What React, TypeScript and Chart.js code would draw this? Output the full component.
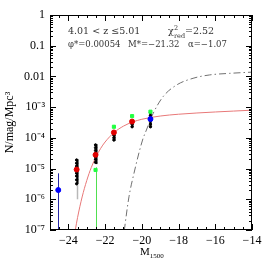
import React, { useEffect, useRef } from "react";
import { Chart, registerables } from "chart.js";
Chart.register(...registerables);

// ---- data ----
const redM = [-23.55, -22.52, -21.52, -20.53];
const redPhi = [9.3e-6, 2.8e-5, 1.5e-4, 3.4e-4];
const redErrLo = [7.5e-6, 2.4e-5, 1.35e-4, 3.1e-4];
const redErrHi = [1.15e-5, 3.3e-5, 1.65e-4, 3.7e-4];

const greenM = [-22.52, -21.52, -20.53, -19.53];
const greenPhi = [9e-6, 2.3e-4, 5.1e-4, 7.1e-4];
const greenErrLo = [1e-7, 2.1e-4, 4.7e-4, 6.5e-4];
const greenErrHi = [1.1e-5, 2.6e-4, 5.6e-4, 7.8e-4];

const blueM = [-24.55, -19.53];
const bluePhi = [2e-6, 4.1e-4];
const blueErrLo = [1e-7, 3.6e-4];
const blueErrHi = [7e-6, 4.6e-4];

const blackM = [
  -23.55, -23.55, -23.55, -23.55, -23.55, -23.55, -23.55, -23.55,
  -22.52, -22.52, -22.52, -22.52, -22.52, -22.52, -22.52,
  -21.52, -21.52, -21.52, -21.52,
  -20.53, -20.53, -20.53,
  -19.53, -19.53, -19.53, -19.53, -19.53, -19.53,
];
const blackPhi = [
  1.9e-5, 1.5e-5, 1.2e-5, 8.9e-6, 7.1e-6, 5.7e-6, 4.3e-6, 3.2e-6,
  5.9e-5, 4.8e-5, 3.9e-5, 3.2e-5, 2.4e-5, 2.0e-5, 1.6e-5,
  1.45e-4, 1.2e-4, 1.0e-4, 8.5e-5,
  3.3e-4, 2.8e-4, 2.3e-4,
  6.5e-4, 5.3e-4, 4.3e-4, 3.5e-4, 2.8e-4, 2.3e-4,
];
const blackErrM = [-23.55, -22.52, -21.52, -20.53, -19.53];
const blackErrLo = [3.2e-6, 1.4e-5, 8e-5, 2.2e-4, 2.2e-4];
const blackErrHi = [2e-5, 6.2e-5, 1.5e-4, 3.5e-4, 6.7e-4];

const grayErrM = [-23.55];
const grayErrLo = [1e-6];
const grayErrHi = [1.8e-5];

const fitM = [-23.75, -23.5, -23.25, -23, -22.75, -22.5, -22.25, -22, -21.5, -21, -20.5, -20, -19, -18, -17, -16, -15, -14];
const fitPhi = [3.6e-8, 2.52e-7, 1.19e-6, 4.06e-6, 1.09e-5, 2.38e-5, 4.45e-5, 7.33e-5, 1.51e-4, 2.41e-4, 3.28e-4, 4.03e-4, 5.13e-4, 5.88e-4, 6.45e-4, 6.96e-4, 7.45e-4, 7.96e-4];

const dashM = [-21.05, -20.95, -20.7, -20.43, -19.96, -19.75, -19.38, -18.84, -18.12, -17.21, -16.3, -15.22, -14.0];
const dashPhi = [3.2e-8, 1e-7, 1.2e-6, 6.9e-6, 8.5e-5, 1.8e-4, 6.3e-4, 2.2e-3, 5.2e-3, 8.7e-3, 1.12e-2, 1.26e-2, 1.38e-2];

const xTicks = [-24, -22, -20, -18, -16, -14];
const yTicks = [1e-7, 1e-6, 1e-5, 1e-4, 1e-3, 0.01, 0.1, 1];
const yTickLabels = ["10⁻⁷", "10⁻⁶", "10⁻⁵", "10⁻⁴", "10⁻³", "0.01", "0.1", "1"];

const zText = "4.01 < z ≤5.01";
const chiValue = "=2.52";
const phiText = "φ*=0.00054";
const mText = "M*=−21.32";
const alphaText = "α=−1.07";
const xTitleMain = "M";
const xTitleSub = "1500";
const yTitle = "N/mag/Mpc³";

const pts = (xs: number[], ys: number[]) => xs.map((x, i) => ({ x, y: ys[i] }));

const decorPlugin = {
  id: "decor",
  beforeDatasetsDraw(chart: any) {
    const { ctx, chartArea: a, scales } = chart;
    const xs = scales.x, ys = scales.y;
    ctx.save();
    ctx.beginPath();
    ctx.rect(a.left, a.top, a.right - a.left, a.bottom - a.top);
    ctx.clip();
    const bars = (m: number[], lo: number[], hi: number[], color: string, w: number) => {
      ctx.strokeStyle = color;
      ctx.lineWidth = w;
      m.forEach((mv, i) => {
        const px = Math.round(xs.getPixelForValue(mv)) + 0.5;
        ctx.beginPath();
        ctx.moveTo(px, ys.getPixelForValue(lo[i]));
        ctx.lineTo(px, ys.getPixelForValue(hi[i]));
        ctx.stroke();
      });
    };
    bars(grayErrM, grayErrLo, grayErrHi, "#b8b8b8", 1.5);
    bars(blackErrM, blackErrLo, blackErrHi, "#000", 2);
    bars(blueM, blueErrLo, blueErrHi, "#2828a8", 1);
    bars(greenM, greenErrLo, greenErrHi, "#50e050", 1);
    bars(redM, redErrLo, redErrHi, "#e00000", 1);
    ctx.restore();
  },
  afterDraw(chart: any) {
    const { ctx, chartArea: a, scales } = chart;
    const xs = scales.x, ys = scales.y;
    ctx.save();
    ctx.strokeStyle = "#000";
    ctx.lineWidth = 1;
    ctx.strokeRect(a.left + 0.5, a.top + 0.5, a.right - a.left - 1, a.bottom - a.top - 1);
    ctx.beginPath();
    for (let v = -25; v <= -14.001 + 0.5; v += 0.5) {
      const px = Math.round(xs.getPixelForValue(v)) + 0.5;
      const len = Math.abs(v % 2) < 1e-6 ? 6 : 3;
      ctx.moveTo(px, a.bottom);
      ctx.lineTo(px, a.bottom - len);
      ctx.moveTo(px, a.top);
      ctx.lineTo(px, a.top + len);
    }
    for (let d = -7; d <= 0; d++) {
      for (let k = 1; k <= 9; k++) {
        const v = k * Math.pow(10, d);
        if (v > 1.0001) break;
        const py = Math.round(ys.getPixelForValue(v)) + 0.5;
        const len = k === 1 ? 6 : 3;
        ctx.moveTo(a.left, py);
        ctx.lineTo(a.left + len, py);
        ctx.moveTo(a.right, py);
        ctx.lineTo(a.right - len, py);
      }
    }
    ctx.stroke();

    // annotations
    ctx.fillStyle = "#333";
    ctx.textBaseline = "middle";
    ctx.textAlign = "left";
    ctx.font = "9.5px 'DejaVu Serif'";
    ctx.fillText(zText, 68, 32);
    ctx.fillText("χ", 168, 32);
    ctx.font = "6.5px 'DejaVu Serif'";
    ctx.fillText("2", 174, 28);
    ctx.fillText("red", 174, 36);
    ctx.font = "9.5px 'DejaVu Serif'";
    ctx.fillText(chiValue, 185, 32);
    ctx.font = "8.5px 'DejaVu Serif'";
    ctx.fillText(phiText, 68, 45);
    ctx.fillText(mText, 128, 45);
    ctx.fillText(alphaText, 188, 45);

    // axis titles
    ctx.fillStyle = "#000";
    ctx.font = "11px 'Liberation Serif'";
    ctx.textBaseline = "alphabetic";
    ctx.fillText(xTitleMain, 140, 255);
    const mw = ctx.measureText(xTitleMain).width;
    ctx.font = "7px 'Liberation Serif'";
    ctx.fillText(xTitleSub, 140 + mw, 258);

    ctx.translate(10, (a.top + a.bottom) / 2);
    ctx.rotate(-Math.PI / 2);
    ctx.font = "12px 'Liberation Serif'";
    ctx.textAlign = "center";
    ctx.textBaseline = "middle";
    ctx.fillText(yTitle, 0, 0);
    ctx.restore();
  },
};

export default function App() {
  const ref = useRef<HTMLCanvasElement>(null);
  useEffect(() => {
    const canvas = ref.current!;
    const chart = new Chart(canvas, {
      type: "scatter",
      data: {
        datasets: [
          { data: pts(redM, redPhi), backgroundColor: "#e00000", borderColor: "#e00000", pointRadius: 2.5, pointStyle: "circle" },
          { data: pts(blueM, bluePhi), backgroundColor: "#0000ff", borderColor: "#0000ff", pointRadius: 2.5 },
          { data: pts(greenM, greenPhi), backgroundColor: "#20ff40", borderColor: "#20ff40", pointRadius: 2.2, pointStyle: "rect" },
          { data: pts(blackM, blackPhi), backgroundColor: "#000", borderColor: "#000", pointRadius: 1.2 },
          {
            type: "line", data: pts(fitM, fitPhi), borderColor: "#e87878", borderWidth: 1,
            pointRadius: 0, showLine: true, cubicInterpolationMode: "monotone", fill: false,
          } as any,
          {
            type: "line", data: pts(dashM, dashPhi), borderColor: "#707070", borderWidth: 1,
            borderDash: [7, 3, 1.5, 3], pointRadius: 0, showLine: true, cubicInterpolationMode: "monotone", fill: false,
          } as any,
        ],
      },
      options: {
        animation: false,
        responsive: false,
        events: [],
        layout: { padding: { left: 0, right: 14, top: 15, bottom: 0 } },
        plugins: { legend: { display: false }, tooltip: { enabled: false } },
        scales: {
          x: {
            type: "linear", min: -25, max: -14,
            grid: { display: false, drawTicks: false },
            border: { display: false },
            afterBuildTicks: (s: any) => { s.ticks = xTicks.map((v) => ({ value: v })); },
            afterFit: (s: any) => { s.height = 36; },
            ticks: {
              padding: 4, maxRotation: 0, autoSkip: false, color: "#000",
              font: { family: "'Liberation Serif'", size: 12 },
              callback: (v: any) => (v < 0 ? "−" + Math.abs(v) : String(v)),
            },
          },
          y: {
            type: "logarithmic", min: 1e-7, max: 1,
            grid: { display: false, drawTicks: false },
            border: { display: false },
            afterBuildTicks: (s: any) => { s.ticks = yTicks.map((v) => ({ value: v })); },
            afterFit: (s: any) => { s.width = 50; },
            ticks: {
              padding: 5, autoSkip: false, color: "#000",
              font: { family: "'Liberation Serif'", size: 12 },
              callback: (v: any) => {
                const i = yTicks.findIndex((t) => Math.abs(Math.log10(t) - Math.log10(v)) < 1e-6);
                return i >= 0 ? yTickLabels[i] : "";
              },
            },
          },
        },
      },
      plugins: [decorPlugin],
    });
    return () => chart.destroy();
  }, []);
  return (
    <div style={{ position: "fixed", left: 0, top: 0, width: 266, height: 266, background: "#fff" }}>
      <canvas ref={ref} width={266} height={266} />
    </div>
  );
}
